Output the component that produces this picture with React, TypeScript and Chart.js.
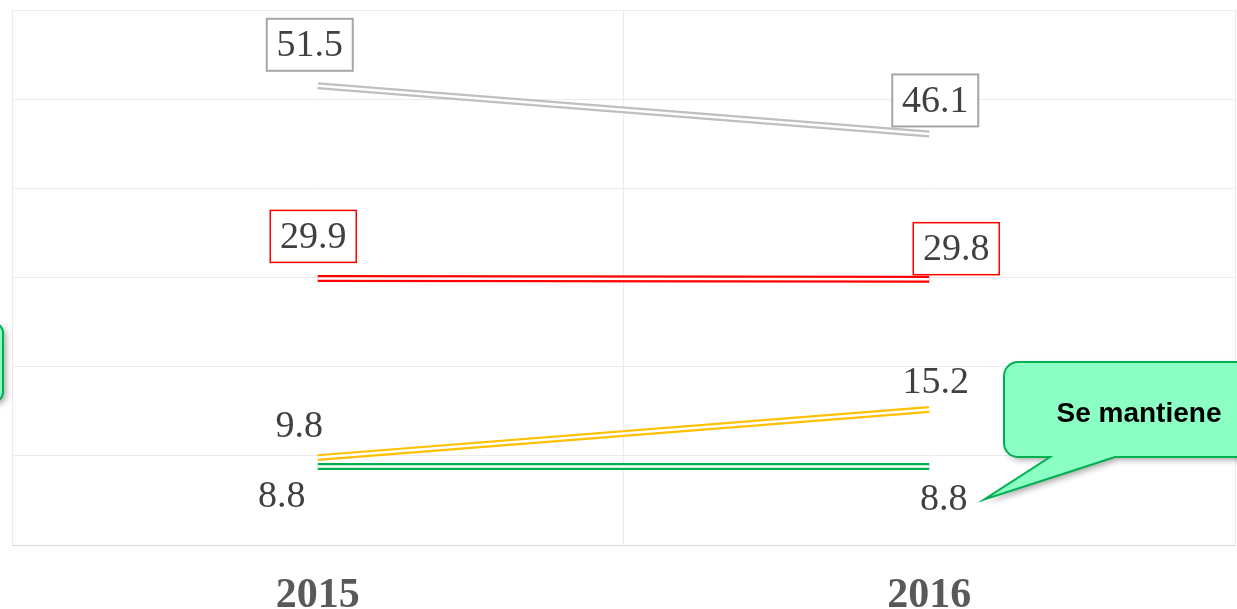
import React, { useEffect, useRef } from "react";
import { Chart, registerables } from "chart.js";

Chart.register(...registerables);

// ---------- DATA ----------
const categories: string[] = ["2015", "2016"];
const grisValues: number[] = [51.5, 46.1];
const rojoValues: number[] = [29.9, 29.8];
const amarilloValues: number[] = [9.8, 15.2];
const verdeValues: number[] = [8.8, 8.8];
const yMin = 0;
const yMax = 60;
const yStep = 10;
const calloutText = "Se mantiene";

// ---------- STYLE ----------
const W = 1237;
const H = 609;
const GRID = "#ebebeb";
const LABEL_FONT = "38px 'Liberation Serif', serif";
const LABEL_COLOR = "#404040";

type LabelCfg = { ds: number; i: number; dx: number; dy: number; box?: string; boxW?: number };

const lineDs = (data: number[], color: string, width: number, order: number) => ({
  data,
  borderColor: color,
  borderWidth: width,
  borderCapStyle: "butt" as const,
  pointRadius: 0,
  pointHoverRadius: 0,
  tension: 0,
  fill: false,
  order,
});

function roundRect(ctx: CanvasRenderingContext2D, x: number, y: number, w: number, h: number, r: number) {
  ctx.beginPath();
  ctx.moveTo(x + r, y);
  ctx.lineTo(x + w - r, y);
  ctx.arcTo(x + w, y, x + w, y + r, r);
  ctx.lineTo(x + w, y + h - r);
  ctx.arcTo(x + w, y + h, x + w - r, y + h, r);
  ctx.lineTo(x + r, y + h);
  ctx.arcTo(x, y + h, x, y + h - r, r);
  ctx.lineTo(x, y + r);
  ctx.arcTo(x, y, x + r, y, r);
  ctx.closePath();
}

const labelPlugin = {
  id: "valueLabels",
  afterDatasetsDraw(chart: any, _args: any, opts: any) {
    const ctx: CanvasRenderingContext2D = chart.ctx;
    const labels: LabelCfg[] = opts.labels || [];
    ctx.save();
    ctx.font = LABEL_FONT;
    ctx.textAlign = "center";
    ctx.textBaseline = "middle";
    for (const l of labels) {
      const meta = chart.getDatasetMeta(l.ds);
      const pt = meta.data[l.i];
      const value = chart.data.datasets[l.ds].data[l.i] as number;
      const cx = pt.x + l.dx;
      const cy = pt.y + l.dy;
      if (l.box) {
        const bw = 86;
        const bh = 52;
        ctx.fillStyle = "#ffffff";
        ctx.fillRect(cx - bw / 2, cy - bh / 2, bw, bh);
        ctx.strokeStyle = l.box;
        ctx.lineWidth = l.boxW || 2;
        ctx.strokeRect(cx - bw / 2, cy - bh / 2, bw, bh);
      }
      ctx.fillStyle = LABEL_COLOR;
      ctx.fillText(value.toFixed(1), cx, cy + 1.5);
    }
    ctx.restore();
  },
};

const calloutPlugin = {
  id: "callouts",
  afterDraw(chart: any) {
    const ctx: CanvasRenderingContext2D = chart.ctx;
    const fill = "#8cffc5";
    const stroke = "#00b050";
    // anchor the pointer to the 2016 green point
    const meta = chart.getDatasetMeta(6);
    const p = meta.data[1];
    const tipX = p.x + 55;
    const tipY = p.y + 33;

    ctx.save();
    // main callout
    const x = 1004, y = 362, w = 300, h = 95, r = 14;
    const path = () => {
      ctx.beginPath();
      ctx.moveTo(x + r, y);
      ctx.lineTo(x + w, y);
      ctx.lineTo(x + w, y + h);
      ctx.lineTo(1115, y + h);
      ctx.lineTo(tipX, tipY);
      ctx.lineTo(1050, y + h);
      ctx.lineTo(x + r, y + h);
      ctx.arcTo(x, y + h, x, y + h - r, r);
      ctx.lineTo(x, y + r);
      ctx.arcTo(x, y, x + r, y, r);
      ctx.closePath();
    };
    ctx.shadowColor = "rgba(0,0,0,0.35)";
    ctx.shadowBlur = 6;
    ctx.shadowOffsetX = 3;
    ctx.shadowOffsetY = 3;
    path();
    ctx.fillStyle = fill;
    ctx.fill();
    ctx.shadowColor = "transparent";
    ctx.lineWidth = 2;
    ctx.strokeStyle = stroke;
    path();
    ctx.stroke();

    ctx.fillStyle = "#000000";
    ctx.font = "bold 28px 'Liberation Sans', Arial, sans-serif";
    ctx.textAlign = "center";
    ctx.textBaseline = "middle";
    ctx.fillText(calloutText, 1139, 414);

    // left (cut-off) callout
    ctx.shadowColor = "rgba(0,0,0,0.35)";
    ctx.shadowBlur = 6;
    ctx.shadowOffsetX = 3;
    ctx.shadowOffsetY = 3;
    roundRect(ctx, -120, 323, 123, 79, 10);
    ctx.fillStyle = fill;
    ctx.fill();
    ctx.shadowColor = "transparent";
    roundRect(ctx, -120, 323, 123, 79, 10);
    ctx.strokeStyle = stroke;
    ctx.lineWidth = 2;
    ctx.stroke();
    ctx.restore();
  },
};

export default function App() {
  const ref = useRef<HTMLCanvasElement | null>(null);

  useEffect(() => {
    if (!ref.current) return;
    const labels: LabelCfg[] = [
      { ds: 0, i: 0, dx: -8, dy: -41, box: "#a6a6a6", boxW: 2 },
      { ds: 0, i: 1, dx: 6, dy: -33.5, box: "#a6a6a6", boxW: 2 },
      { ds: 2, i: 0, dx: -4.5, dy: -42, box: "#ff0000", boxW: 1.5 },
      { ds: 2, i: 1, dx: 27, dy: -30.6, box: "#ff0000", boxW: 1.5 },
      { ds: 4, i: 0, dx: -18.5, dy: -31.8 },
      { ds: 4, i: 1, dx: 6.5, dy: -27.8 },
      { ds: 6, i: 0, dx: -36, dy: 28.5 },
      { ds: 6, i: 1, dx: 14.5, dy: 31.8 },
    ];
    const chart = new Chart(ref.current, {
      type: "line",
      data: {
        labels: categories,
        datasets: [
          lineDs(grisValues, "#bfbfbf", 7, 1),
          lineDs(grisValues, "#ffffff", 2.5, 0),
          lineDs(rojoValues, "#ff0000", 7, 1),
          lineDs(rojoValues, "#ffffff", 2.5, 0),
          lineDs(amarilloValues, "#ffc000", 7, 1),
          lineDs(amarilloValues, "#ffffff", 2.5, 0),
          lineDs(verdeValues, "#00b050", 7, 1),
          lineDs(verdeValues, "#ffffff", 2.5, 0),
        ] as any,
      },
      options: {
        animation: false,
        responsive: false,
        devicePixelRatio: 1,
        layout: { padding: { left: 12, right: 2, top: 10, bottom: 0 } },
        plugins: {
          legend: { display: false },
          tooltip: { enabled: false },
          valueLabels: { labels },
        } as any,
        scales: {
          x: {
            type: "category",
            offset: true,
            grid: { offset: true, color: GRID, lineWidth: 1, drawTicks: false },
            border: { display: true, color: "#d9d9d9", width: 1 },
            ticks: {
              color: "#595959",
              padding: 26,
              font: { family: "'Liberation Serif', serif", size: 42, weight: "bold" },
            },
            afterFit: (s: any) => {
              s.height = 64;
            },
          },
          y: {
            min: yMin,
            max: yMax,
            ticks: { stepSize: yStep, display: false },
            grid: { color: GRID, lineWidth: 1, drawTicks: false },
            border: { display: false },
          },
        },
      },
      plugins: [labelPlugin, calloutPlugin],
    });
    return () => chart.destroy();
  }, []);

  return (
    <div style={{ position: "fixed", left: 0, top: 0, width: W, height: H, background: "#ffffff" }}>
      <canvas ref={ref} width={W} height={H} style={{ display: "block" }} />
    </div>
  );
}
